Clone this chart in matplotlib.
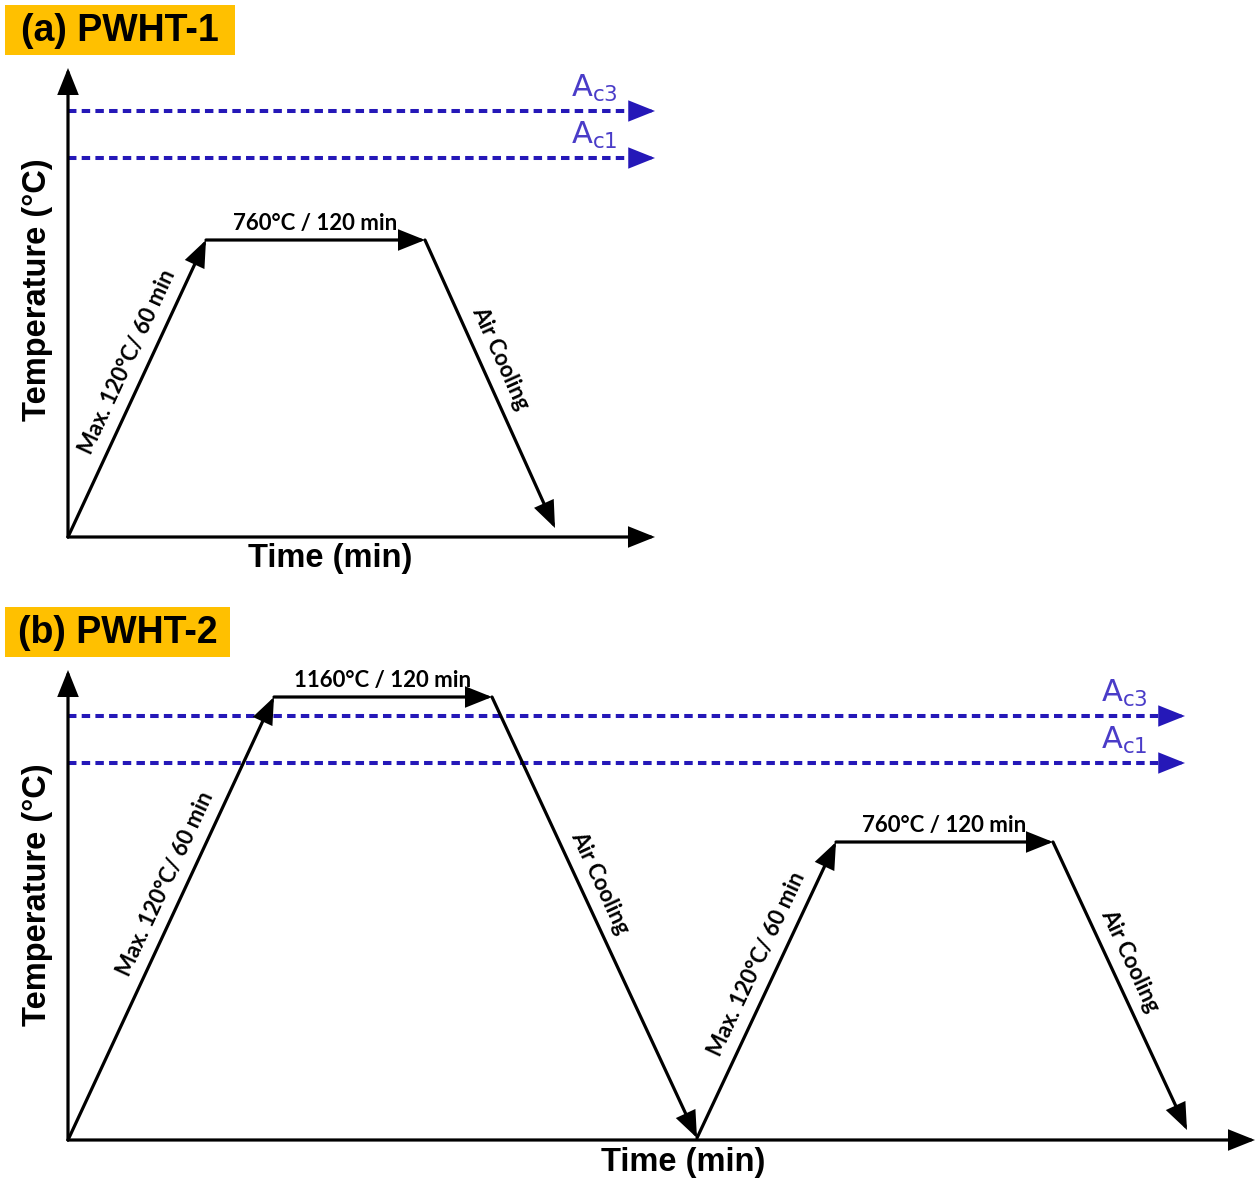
import numpy as np
import matplotlib
matplotlib.use("Agg")
import matplotlib.pyplot as plt
from matplotlib.patches import Rectangle

plt.rcParams['mathtext.fontset'] = 'custom'
plt.rcParams['mathtext.rm'] = 'Liberation Sans'

# ---------------- data (schematic units) ----------------
titles = ["(a) PWHT-1", "(b) PWHT-2"]

# Panel (a) PWHT-1
time_a = [0, 138, 357, 487]
temp_a = [0, 297, 297, 9]
labels_a = ["Max. 120°C/ 60 min", "760°C / 120 min", "Air Cooling"]
ac3_a, ac1_a = 426, 379
xmax_a, ymax_a = 587, 469
ac_end_a = 587

# Panel (b) PWHT-2
time_b = [0, 206, 424, 629, 768, 985, 1119]
temp_b = [0, 443, 443, 2, 298, 298, 10]
labels_b = ["Max. 120°C/ 60 min", "1160°C / 120 min", "Air Cooling",
            "Max. 120°C/ 60 min", "760°C / 120 min", "Air Cooling"]
ac3_b, ac1_b = 424, 377
xmax_b, ymax_b = 1187, 470
ac_end_b = 1117

ylabel = "Temperature (°C)"
xlabel = "Time (min)"

# ---------------- figure ----------------
W, H = 1258, 1185
fig = plt.figure(figsize=(W / 100, H / 100), dpi=100)
fig.patch.set_facecolor('white')

BLUE_LINE = '#2518b8'
BLUE_TXT = '#4a3cc8'
ORANGE = '#ffc000'
LW = 2.3


def arrow(ax, p0, p1, color='k', lw=LW, ms=16):
    ax.annotate('', xy=p1, xytext=p0,
                arrowprops=dict(arrowstyle='-|>,head_length=0.95,head_width=0.38',
                                color=color, lw=lw, shrinkA=0, shrinkB=0,
                                mutation_scale=ms, joinstyle='miter'))


def draw_panel(ax, times, temps, labels, ac3, ac1, xmax, ymax, ac_end,
               title, box_w, ylab_y, xlab_x):
    # axes arrows
    arrow(ax, (0, 0), (xmax, 0))
    arrow(ax, (0, 0), (0, ymax))
    # Ac lines
    for yv, name in [(ac3, 'c3'), (ac1, 'c1')]:
        ax.plot([0, ac_end - 12], [yv, yv], color=BLUE_LINE, lw=2.9,
                dashes=(2.1, 1.3), solid_capstyle='butt', dash_capstyle='butt')
        arrow(ax, (ac_end - 15, yv), (ac_end, yv), color=BLUE_LINE, lw=2.2, ms=16)
        ax.text(ac_end - 84, yv + 7, r'$\mathregular{A_{%s}}$' % name,
                color=BLUE_TXT, fontsize=22, ha='left', va='bottom')
    # profile segments
    for i in range(len(times) - 1):
        p0 = (times[i], temps[i])
        p1 = (times[i + 1], temps[i + 1])
        arrow(ax, p0, p1)
        dx, dy = p1[0] - p0[0], p1[1] - p0[1]
        lab = labels[i]
        if dy == 0:
            ax.text((p0[0] + p1[0]) / 2, p0[1] + 6, lab, ha='center', va='bottom',
                    fontsize=16, fontweight='bold', family='Lato')
            continue
        ang = np.degrees(np.arctan2(dy, dx))
        L = np.hypot(dx, dy)
        ux, uy = dx / L, dy / L
        t = 0.56 if dy > 0 else 0.44
        off = 20
        cx = p0[0] + t * dx - uy * off
        cy = p0[1] + t * dy + ux * off
        ax.text(cx, cy, lab, rotation=ang, rotation_mode='anchor',
                ha='center', va='center', fontsize=16, fontweight='bold',
                family='Lato')
    # axis labels
    ax.text(-30, ylab_y, ylabel, rotation=90, ha='center', va='center',
            fontsize=23.5, fontweight='bold', family='Liberation Sans')
    ax.text(xlab_x, -22, xlabel, ha='center', va='center',
            fontsize=23.5, fontweight='bold', family='Liberation Sans')
    # title box
    top = ymax + 63
    ax.add_patch(Rectangle((-63, top - 50), box_w, 50, facecolor=ORANGE,
                           edgecolor='none'))
    ax.text(-63 + box_w / 2, top - 26, title, ha='center', va='center',
            fontsize=27, fontweight='bold', family='Liberation Sans')


# panel a: figure pixels y 0..590, origin at (68,537)
ax_a = fig.add_axes([0, (H - 590) / H, 1, 590 / H])
ax_a.set_xlim(-68, W - 68)
ax_a.set_ylim(537 - 590, 537)
ax_a.axis('off')
draw_panel(ax_a, time_a, temp_a, labels_a, ac3_a, ac1_a, xmax_a, ymax_a,
           ac_end_a, titles[0], 230, 247, 262)

# panel b: figure pixels y 590..1185, origin at (68,1140)
ax_b = fig.add_axes([0, 0, 1, 595 / H])
ax_b.set_xlim(-68, W - 68)
ax_b.set_ylim(1140 - 1185, 1140 - 590)
ax_b.axis('off')
draw_panel(ax_b, time_b, temp_b, labels_b, ac3_b, ac1_b, xmax_b, ymax_b,
           ac_end_b, titles[1], 225, 245, 615)

fig.savefig('out.png', dpi=100)
